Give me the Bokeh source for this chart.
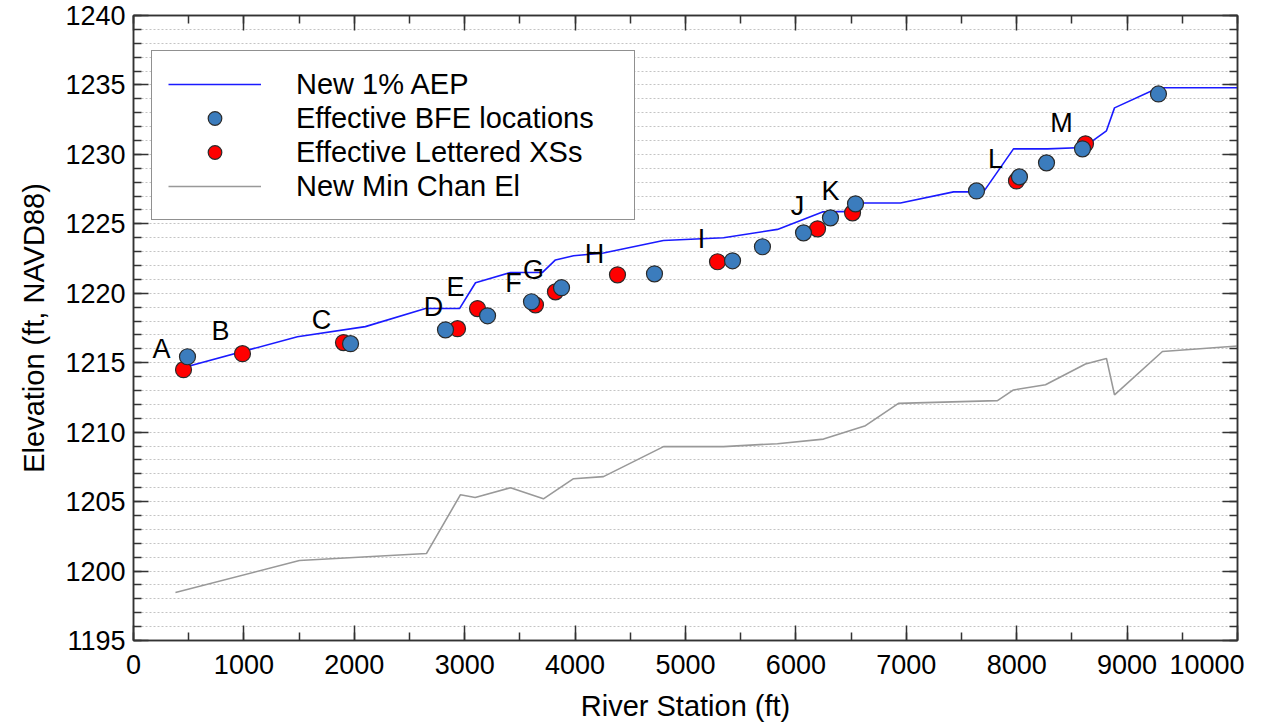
from bokeh.plotting import figure
from bokeh.models import (ColumnDataSource, Legend, LegendItem, LinearAxis,
                          SingleIntervalTicker, FixedTicker, Range1d,
                          CustomJSTickFormatter)
from bokeh.core.properties import value
from bokeh.embed import file_html
from bokeh.resources import INLINE

FONT = "Liberation Sans"

# New 1% AEP water surface profile
aep_x = [380, 1485, 2100, 2645, 2953, 3098, 3415, 3705, 3822, 3986, 4257, 4800,
         5344, 5833, 6241, 6540, 6612, 6947, 7428, 7699, 7971, 8279, 8605, 8813,
         8886, 9284, 10000]
aep_y = [1214.5, 1216.87, 1217.6, 1218.9, 1218.9, 1220.76, 1221.5, 1221.5, 1222.4,
         1222.7, 1222.9, 1223.8, 1224.0, 1224.6, 1225.86, 1225.9, 1226.5, 1226.5,
         1227.3, 1227.3, 1230.4, 1230.4, 1230.5, 1231.7, 1233.35, 1234.8, 1234.8]

# New minimum channel elevation
chan_x = [380, 1503, 2653, 2962, 3095, 3415, 3713, 3986, 4257, 4801, 5344, 5833,
          6250, 6630, 6929, 7826, 7971, 8261, 8623, 8813, 8886, 9320, 10000]
chan_y = [1198.45, 1200.76, 1201.26, 1205.5, 1205.3, 1206.0, 1205.2, 1206.65,
          1206.8, 1208.96, 1208.96, 1209.17, 1209.5, 1210.47, 1212.07, 1212.27,
          1213.04, 1213.42, 1214.91, 1215.31, 1212.68, 1215.81, 1216.2]

# Effective BFE locations
bfe_x = [489, 1966, 2826, 3207, 3605, 3877, 4719, 5426, 5697, 6069, 6313, 6540,
         7636, 8025, 8270, 8596, 9284]
bfe_y = [1215.43, 1216.37, 1217.37, 1218.38, 1219.39, 1220.4, 1221.4, 1222.34,
         1223.35, 1224.35, 1225.43, 1226.44, 1227.37, 1228.38, 1229.39, 1230.4,
         1234.35]

# Effective lettered cross sections
xs_x = [453, 987, 1902, 2935, 3116, 3641, 3822, 4384, 5290, 6196, 6513, 7998, 8623]
xs_y = [1214.5, 1215.65, 1216.45, 1217.45, 1218.9, 1219.17, 1220.1, 1221.33,
        1222.27, 1224.64, 1225.79, 1228.09, 1230.76]

# Cross-section letter labels
letters = ["A", "B", "C", "D", "E", "F", "G", "H", "I", "J", "K", "L", "M"]
letter_x = [254, 788, 1703, 2717, 2917, 3442, 3623, 4176, 5145, 6014, 6313, 7808, 8406]
letter_y = [1216.0, 1217.3, 1218.1, 1219.0, 1220.47, 1220.76, 1221.7, 1222.84,
            1223.92, 1226.3, 1227.37, 1229.68, 1232.27]

# x tick labels; the last one ("10000") is drawn pulled inside the right edge
x_tick_labels = ["0", "1000", "2000", "3000", "4000", "5000", "6000", "7000",
                 "8000", "9000", "10000"]
x_tick_vals = [0, 1000, 2000, 3000, 4000, 5000, 6000, 7000, 8000, 9000, 10000]
x_last_label_pos = 9724

p = figure(width=1262, height=726, output_backend="svg", toolbar_location=None,
           x_range=Range1d(0, 10000), y_range=Range1d(1195, 1240),
           min_border_left=133, min_border_right=25, min_border_top=15,
           min_border_bottom=86, background_fill_color="white",
           border_fill_color="white", x_axis_location=None)
p.outline_line_color = "#333333"
p.outline_line_width = 1.5

axis_color = "#333333"


def style_ticks(ax):
    ax.axis_line_color = axis_color
    ax.axis_line_width = 1.5
    ax.major_tick_line_color = axis_color
    ax.minor_tick_line_color = axis_color
    ax.major_tick_line_width = 1.5
    ax.minor_tick_line_width = 1.5
    ax.major_tick_in = 15
    ax.major_tick_out = 0
    ax.minor_tick_in = 8
    ax.minor_tick_out = 0


blank = CustomJSTickFormatter(code="return ''")

# bottom: tick marks only (nearest the frame)
xticks_axis = LinearAxis(ticker=SingleIntervalTicker(interval=1000, num_minor_ticks=2),
                         formatter=blank)
style_ticks(xticks_axis)
xticks_axis.major_label_standoff = 0
xticks_axis.major_label_text_font_size = "1px"
p.add_layout(xticks_axis, "below")

# bottom: labels only
label_ticks = x_tick_vals[:-1] + [x_last_label_pos]
xlabel_axis = LinearAxis(ticker=FixedTicker(ticks=label_ticks, minor_ticks=[]))
xlabel_axis.major_label_overrides = {t: s for t, s in zip(label_ticks, x_tick_labels)}
xlabel_axis.axis_line_color = None
xlabel_axis.major_tick_line_color = None
xlabel_axis.minor_tick_line_color = None
xlabel_axis.major_tick_in = 0
xlabel_axis.major_tick_out = 0
xlabel_axis.minor_tick_in = 0
xlabel_axis.minor_tick_out = 0
xlabel_axis.major_label_standoff = 14
xlabel_axis.major_label_text_font = FONT
xlabel_axis.major_label_text_font_size = "27px"
xlabel_axis.major_label_text_color = "black"
xlabel_axis.axis_label = "River Station (ft)"
xlabel_axis.axis_label_text_font = FONT
xlabel_axis.axis_label_text_font_size = "29px"
xlabel_axis.axis_label_text_font_style = "normal"
xlabel_axis.axis_label_text_color = "black"
xlabel_axis.axis_label_standoff = 13
p.add_layout(xlabel_axis, "below")

ya = p.yaxis[0]
style_ticks(ya)
ya.ticker = SingleIntervalTicker(interval=5, num_minor_ticks=5)
ya.major_label_text_font = FONT
ya.major_label_text_font_size = "27px"
ya.major_label_text_color = "black"
ya.major_label_standoff = 8
ya.axis_label = "Elevation (ft, NAVD88)"
ya.axis_label_text_font = FONT
ya.axis_label_text_font_size = "29px"
ya.axis_label_text_font_style = "normal"
ya.axis_label_text_color = "black"
ya.axis_label_standoff = 12

# mirrored tick axes (top and right) without labels
top = LinearAxis(ticker=SingleIntervalTicker(interval=1000, num_minor_ticks=2),
                 formatter=blank)
right = LinearAxis(ticker=SingleIntervalTicker(interval=5, num_minor_ticks=5),
                   formatter=blank)
for ax in [top, right]:
    style_ticks(ax)
    ax.major_label_standoff = 0
    ax.major_label_text_font_size = "1px"
p.add_layout(top, "above")
p.add_layout(right, "right")

for g in p.xgrid:
    g.visible = False
p.ygrid.ticker = SingleIntervalTicker(interval=1)
p.ygrid.grid_line_color = "#c4c4c4"
p.ygrid.grid_line_dash = "2 2"
p.ygrid.grid_line_width = 1

aep_src = ColumnDataSource(dict(x=aep_x, y=aep_y))
chan_src = ColumnDataSource(dict(x=chan_x, y=chan_y))
bfe_src = ColumnDataSource(dict(x=bfe_x, y=bfe_y))
xs_src = ColumnDataSource(dict(x=xs_x, y=xs_y))
lab_src = ColumnDataSource(dict(x=letter_x, y=letter_y, t=letters))

r_chan = p.line("x", "y", source=chan_src, line_color="#999999", line_width=1.6)
r_aep = p.line("x", "y", source=aep_src, line_color="#1a1aff", line_width=1.6)
r_xs = p.scatter("x", "y", source=xs_src, size=16, fill_color="#ff0000",
                 line_color="#2a2a2a", line_width=1.2)
r_bfe = p.scatter("x", "y", source=bfe_src, size=16, fill_color="#3b7cbd",
                  line_color="#2a2a2a", line_width=1.2)
p.text("x", "y", text="t", source=lab_src, text_font=value(FONT),
       text_font_size="27px", text_align="center", text_baseline="middle",
       text_color="black")

legend = Legend(items=[
    LegendItem(label="New 1% AEP", renderers=[r_aep]),
    LegendItem(label="Effective BFE locations", renderers=[r_bfe]),
    LegendItem(label="Effective Lettered XSs", renderers=[r_xs]),
    LegendItem(label="New Min Chan El", renderers=[r_chan]),
], location=(18, 420))
legend.label_text_font = FONT
legend.label_text_font_size = "29px"
legend.label_text_color = "black"
legend.glyph_width = 93
legend.glyph_height = 34
legend.label_height = 34
legend.label_width = 322
legend.label_standoff = 35
legend.padding = 16
legend.spacing = 0
legend.margin = 0
legend.border_line_color = "#222222"
legend.border_line_width = 1.5
legend.background_fill_color = "white"
legend.background_fill_alpha = 1.0
p.add_layout(legend, "center")

open("out.html", "w").write(file_html(p, INLINE))
